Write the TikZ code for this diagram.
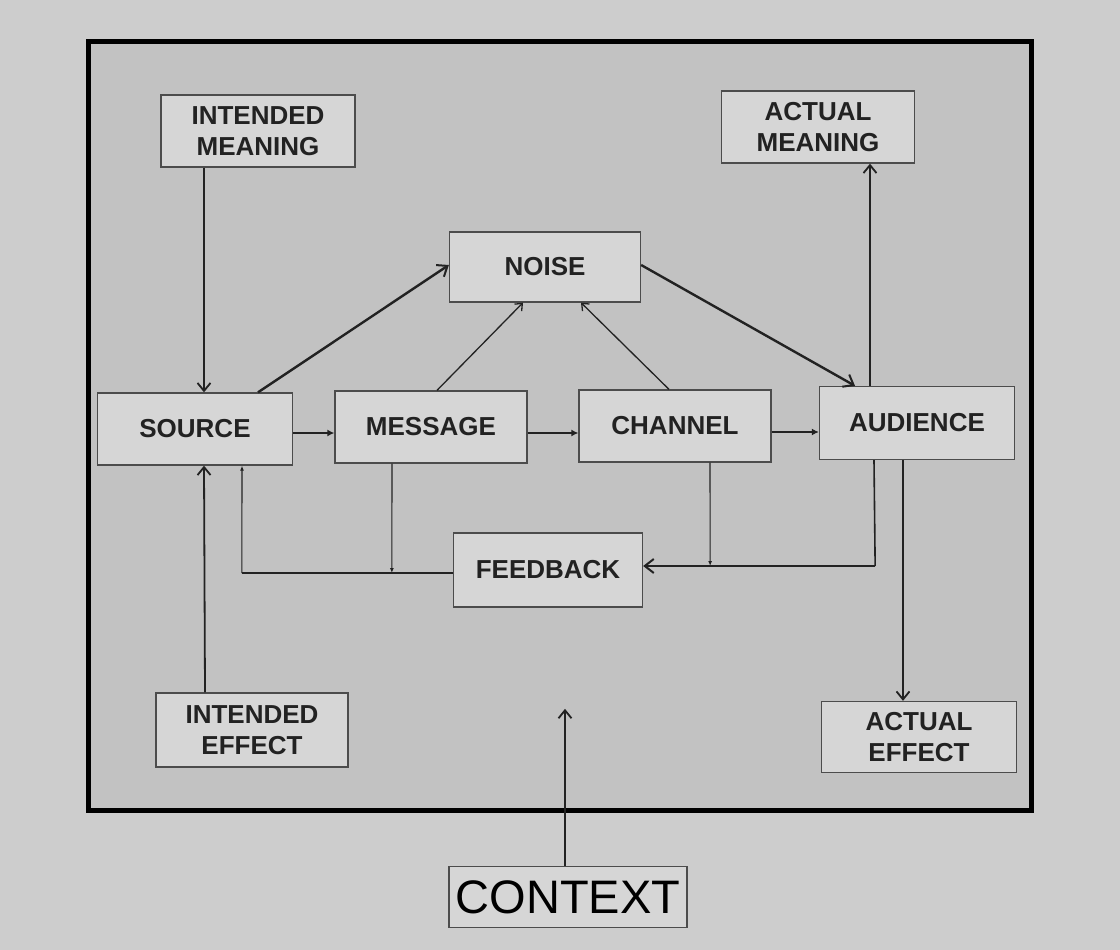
\documentclass[tikz,border=0pt]{standalone}
\usepackage{fontspec}
\setmainfont{Liberation Sans}
\usetikzlibrary{arrows.meta}
\definecolor{pagebg}{HTML}{CDCDCD}
\definecolor{framebg}{HTML}{C2C2C2}
\definecolor{boxbg}{HTML}{D6D6D6}
\definecolor{ink}{HTML}{222222}
\begin{document}
\begin{tikzpicture}[x=1pt,y=-1pt,
  box/.style={draw=black!70, line width=1.3pt, fill=boxbg, text=ink,
    font=\bfseries\fontsize{26}{31}\selectfont, align=center, inner sep=0pt},
  bigarrow/.style={draw=ink, line width=2.4pt, -{Straight Barb[length=9pt,width=14pt,line width=2pt]}},
  midarrow/.style={draw=ink, line width=1.8pt, -{Straight Barb[length=8pt,width=13pt,line width=1.8pt]}},
  thinarrow/.style={draw=ink, line width=1.3pt, -{Straight Barb[length=6pt,width=10pt,line width=1.3pt]}},
  smallarrow/.style={draw=ink, line width=1.6pt, -{Latex[length=7pt,width=7pt]}},
  tinyarrow/.style={draw=ink, line width=1.1pt, -{Latex[length=5pt,width=4pt]}},
  fbline/.style={draw=ink, line width=1.6pt}]
\useasboundingbox (0,0) rectangle (1120,950);
\fill[pagebg] (0,0) rectangle (1120,950);
\draw[line width=5pt, fill=framebg] (88,42) rectangle (1031,810);

\node[box, minimum width=194, minimum height=72] (im) at (258,131) {INTENDED\\MEANING};
\node[box, minimum width=193, minimum height=72] (am) at (818,127) {ACTUAL\\MEANING};
\node[box, minimum width=191, minimum height=70] (noise) at (545,267) {NOISE};
\node[box, minimum width=195, minimum height=72] (src) at (195,429) {SOURCE};
\node[box, minimum width=192, minimum height=72] (msg) at (431,427) {MESSAGE};
\node[box, minimum width=192, minimum height=72] (chn) at (675,426) {CHANNEL};
\node[box, minimum width=195, minimum height=73] (aud) at (917,423) {AUDIENCE};
\node[box, minimum width=189, minimum height=74] (fb) at (548,570) {FEEDBACK};
\node[box, minimum width=192, minimum height=74] (ie) at (252,730) {INTENDED\\EFFECT};
\node[box, minimum width=195, minimum height=71] (ae) at (919,737) {ACTUAL\\EFFECT};
\node[box, minimum width=238, minimum height=61, font=\fontsize{47}{50}\selectfont, text=black] (ctx) at (568,897) {CONTEXT};

% intended meaning / effect to source
\draw[midarrow] ([xshift=-54]im.south) -- ([xshift=9]src.north);
\draw[midarrow] ([xshift=-47]ie.north) -- ([xshift=9]src.south);

% main chain
\draw[smallarrow] ([yshift=-4]src.east) -- ([yshift=-4]src.east -| msg.west);
\draw[smallarrow] ([yshift=-6]msg.east) -- ([yshift=-6]msg.east -| chn.west);
\draw[smallarrow] ([yshift=-6]chn.east) -- ([yshift=-6]chn.east -| aud.west);

% to and from noise
\draw[bigarrow] ([xshift=63]src.north) -- ([yshift=2]noise.west);
\draw[thinarrow] ([xshift=6]msg.north) -- ([xshift=-22]noise.south);
\draw[thinarrow] ([xshift=-6]chn.north) -- ([xshift=36]noise.south);
\draw[bigarrow] ([yshift=2]noise.east) -- ([xshift=-62]aud.north);

% audience to actual meaning / effect
\draw[midarrow] ([xshift=-47]aud.north) -- ([xshift=52]am.south);
\draw[midarrow] ([xshift=-14]aud.south) -- ([xshift=-16]ae.north);

% feedback
\coordinate (fbR) at ([xshift=232,yshift=4]fb.east);
\coordinate (fbL) at ([xshift=-211,yshift=-3]fb.west);
\draw[fbline] ([xshift=-43]aud.south) -- (fbR);
\draw[bigarrow, line width=1.8pt] (fbR) -- ([yshift=4]fb.east);
\draw[tinyarrow] ([xshift=35]chn.south) -- ([xshift=67,yshift=4]fb.east);
\draw[fbline] ([yshift=-3]fb.west) -- (fbL);
\draw[tinyarrow] (fbL) -- ([xshift=47]src.south);
\draw[tinyarrow] ([xshift=-39]msg.south) -- ([xshift=-61,yshift=-3]fb.west);

% context
\draw[midarrow] ([xshift=-3]ctx.north) -- ++(0,-157);
\end{tikzpicture}
\end{document}
